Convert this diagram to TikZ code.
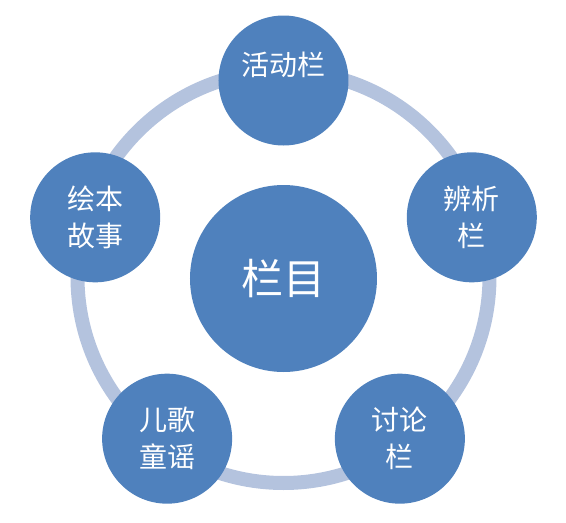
\documentclass[tikz,border=0pt]{standalone}
\usepackage{fontspec}
\newfontfamily\cjk{Noto Sans CJK SC}
\usepackage{xcolor}
\usepackage{tikz}
\usetikzlibrary{positioning,calc}

\definecolor{colblue}{HTML}{4F81BD}
\definecolor{ringblue}{HTML}{B4C3DE}

\tikzset{
    part/.style={circle, fill=colblue, minimum size=130pt, inner sep=0pt,
        text=white, align=center, font=\cjk\fontsize{28}{37}\selectfont},
    partlabel/.style={text=white, inner sep=0pt, font=\cjk\fontsize{28}{37}\selectfont},
    hub/.style={circle, fill=colblue, minimum size=187pt, inner sep=0pt,
        text=white, font=\cjk\fontsize{42}{50}\selectfont}
}

\begin{document}
\begin{tikzpicture}[x=1pt,y=1pt]
        \useasboundingbox (-283.5pt,-244.5pt) rectangle (282.5pt,278.5pt);

        % Define the centres of the five parts (regular pentagon)
        \coordinate (O) at (0, 0);
        \coordinate (P1) at (90:198pt);
        \coordinate (P2) at (18:198pt);
        \coordinate (P3) at (-54:198pt);
        \coordinate (P4) at (-126:198pt);
        \coordinate (P5) at (162:198pt);

        % Draw the ring behind the circles
        \draw[ringblue, line width=14pt] ($(O) + (0, 1.5pt)$) circle (206pt);

        % Central circle
        \node[hub] (hub) at (O) {栏目};

        % Outer circles
        \node[part] (huodong) at (P1) {};
        \node[part] (bianxi) at (P2) {辨析\\栏};
        \node[part] (taolun) at (P3) {讨论\\栏};
        \node[part] (erge) at (P4) {儿歌\\童谣};
        \node[part] (huiben) at (P5) {绘本\\故事};

        % Label of the top circle sits high
        \node[partlabel] (huodong-t) at ([yshift=15.5pt]huodong.center) {活动栏};

    \end{tikzpicture}
\end{document}
